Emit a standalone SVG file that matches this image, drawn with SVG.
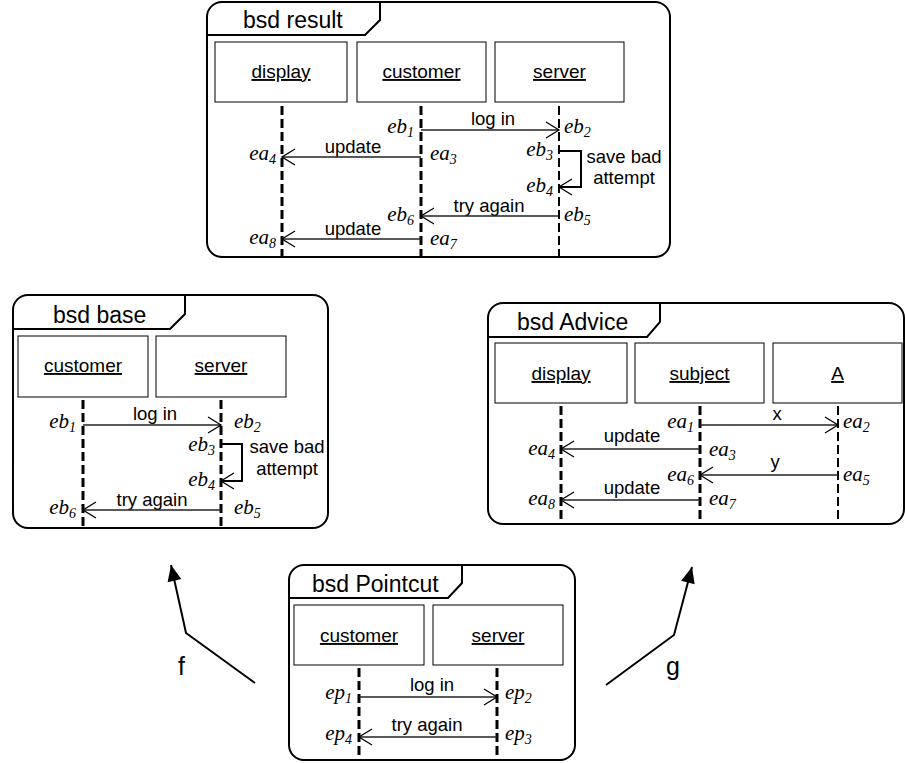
<svg xmlns="http://www.w3.org/2000/svg" width="905" height="763" viewBox="0 0 905 763">
<style>
.frame{fill:#fff;stroke:#000;stroke-width:2}
.tab{fill:none;stroke:#000;stroke-width:2}
.box{fill:#fff;stroke:#000;stroke-width:1}
.title{font-family:"Liberation Sans",Arial,sans-serif;font-size:23px;fill:#000}
.lbl{font-family:"Liberation Sans",Arial,sans-serif;font-size:19px;fill:#000;text-anchor:middle;text-decoration:underline}
.msgl{font-family:"Liberation Sans",Arial,sans-serif;font-size:18.5px;fill:#000;text-anchor:middle}
.ev{font-family:"Liberation Serif","Times New Roman",serif;font-style:italic;font-size:21px;fill:#000}
.sub{font-size:14px}
.end{text-anchor:end}
.life{stroke:#000;stroke-width:3;stroke-dasharray:9,4;fill:none}
.life2{stroke:#000;stroke-width:2;stroke-dasharray:9,4;fill:none}
.msg{stroke:#222;stroke-width:1.3;fill:none;marker-end:url(#open)}
.self{stroke:#000;stroke-width:2;fill:none;marker-end:url(#open)}
.map{stroke:#000;stroke-width:2;fill:none;marker-end:url(#filled)}
.big{font-family:"Liberation Sans",Arial,sans-serif;font-size:25px;fill:#000}
</style>
<defs>
<marker id="open" markerUnits="userSpaceOnUse" markerWidth="16" markerHeight="18" refX="13" refY="8" orient="auto" overflow="visible">
<path d="M0,0 L13,8 L0,16" fill="none" stroke="#000" stroke-width="1.3"/>
</marker>
<marker id="filled" markerUnits="userSpaceOnUse" markerWidth="18" markerHeight="16" refX="16" refY="7" orient="auto" overflow="visible">
<path d="M0,0 L16,7 L0,14 Z" fill="#000"/>
</marker>
</defs>

<g id="bsd-result">
<rect class="frame" x="207" y="2" width="463" height="255" rx="15"/>
<path class="tab" d="M207,35 H365 L380,20 V2"/>
<text class="title" x="243" y="28">bsd result</text>
<rect class="box" x="215" y="42" width="132" height="60"/>
<rect class="box" x="357" y="42" width="129" height="60"/>
<rect class="box" x="495" y="42" width="129" height="60"/>
<text class="lbl" x="281" y="78">display</text>
<text class="lbl" x="421.5" y="78">customer</text>
<text class="lbl" x="559.5" y="78">server</text>
<line class="life" x1="282" y1="106" x2="282" y2="256"/>
<line class="life" x1="421" y1="106" x2="421" y2="256"/>
<line class="life2" x1="559" y1="106" x2="559" y2="256"/>
<text class="msgl" x="493" y="125">log in</text>
<text class="msgl" x="353" y="153">update</text>
<text class="msgl" x="489" y="212">try again</text>
<text class="msgl" x="353" y="235">update</text>
<text class="msgl" x="624" y="163">save bad</text>
<text class="msgl" x="624" y="184">attempt</text>
<text class="ev end" x="414" y="133">eb<tspan class="sub" dy="4">1</tspan></text>
<text class="ev" x="564" y="133">eb<tspan class="sub" dy="4">2</tspan></text>
<text class="ev end" x="553" y="156">eb<tspan class="sub" dy="4">3</tspan></text>
<text class="ev end" x="553" y="192">eb<tspan class="sub" dy="4">4</tspan></text>
<text class="ev" x="564" y="221">eb<tspan class="sub" dy="4">5</tspan></text>
<text class="ev end" x="414" y="221">eb<tspan class="sub" dy="4">6</tspan></text>
<text class="ev" x="430" y="160">ea<tspan class="sub" dy="4">3</tspan></text>
<text class="ev end" x="276" y="160">ea<tspan class="sub" dy="4">4</tspan></text>
<text class="ev" x="430" y="245">ea<tspan class="sub" dy="4">7</tspan></text>
<text class="ev end" x="276" y="244">ea<tspan class="sub" dy="4">8</tspan></text>
</g>

<g id="bsd-base">
<rect class="frame" x="13" y="295" width="315" height="233" rx="15"/>
<path class="tab" d="M13,329 H170 L185,314 V295"/>
<text class="title" x="53" y="323">bsd base</text>
<rect class="box" x="18" y="336" width="130" height="61"/>
<rect class="box" x="156" y="336" width="130" height="61"/>
<text class="lbl" x="83" y="372">customer</text>
<text class="lbl" x="221" y="372">server</text>
<line class="life" x1="83" y1="400" x2="83" y2="527"/>
<line class="life" x1="221" y1="400" x2="221" y2="527"/>
<text class="msgl" x="155" y="420">log in</text>
<text class="msgl" x="152" y="506">try again</text>
<text class="msgl" x="287" y="453">save bad</text>
<text class="msgl" x="287" y="475">attempt</text>
<text class="ev end" x="76" y="428">eb<tspan class="sub" dy="4">1</tspan></text>
<text class="ev" x="234" y="428">eb<tspan class="sub" dy="4">2</tspan></text>
<text class="ev end" x="215" y="451">eb<tspan class="sub" dy="4">3</tspan></text>
<text class="ev end" x="215" y="486">eb<tspan class="sub" dy="4">4</tspan></text>
<text class="ev" x="234" y="514">eb<tspan class="sub" dy="4">5</tspan></text>
<text class="ev end" x="76" y="514">eb<tspan class="sub" dy="4">6</tspan></text>
</g>

<g id="bsd-advice">
<rect class="frame" x="488" y="303" width="416" height="221" rx="15"/>
<path class="tab" d="M488,337 H647 L660,322 V303"/>
<text class="title" x="517" y="330">bsd Advice</text>
<rect class="box" x="495" y="343" width="132" height="60"/>
<rect class="box" x="635" y="343" width="129" height="60"/>
<rect class="box" x="773" y="343" width="129" height="60"/>
<text class="lbl" x="561" y="380">display</text>
<text class="lbl" x="699.5" y="380">subject</text>
<text class="lbl" x="837.5" y="380">A</text>
<line class="life" x1="561" y1="406" x2="561" y2="523"/>
<line class="life" x1="700" y1="406" x2="700" y2="523"/>
<line class="life2" x1="838" y1="406" x2="838" y2="523"/>
<text class="msgl" x="777" y="420">x</text>
<text class="msgl" x="632" y="442">update</text>
<text class="msgl" x="775" y="468">y</text>
<text class="msgl" x="632" y="494">update</text>
<text class="ev end" x="694" y="428">ea<tspan class="sub" dy="4">1</tspan></text>
<text class="ev" x="843" y="428">ea<tspan class="sub" dy="4">2</tspan></text>
<text class="ev" x="709" y="456">ea<tspan class="sub" dy="4">3</tspan></text>
<text class="ev end" x="555" y="455">ea<tspan class="sub" dy="4">4</tspan></text>
<text class="ev" x="843" y="481">ea<tspan class="sub" dy="4">5</tspan></text>
<text class="ev end" x="694" y="481">ea<tspan class="sub" dy="4">6</tspan></text>
<text class="ev" x="709" y="505">ea<tspan class="sub" dy="4">7</tspan></text>
<text class="ev end" x="555" y="505">ea<tspan class="sub" dy="4">8</tspan></text>
</g>

<g id="bsd-pointcut">
<rect class="frame" x="289" y="565" width="286" height="195" rx="15"/>
<path class="tab" d="M289,598 H448 L462,583 V565"/>
<text class="title" x="312" y="592">bsd Pointcut</text>
<rect class="box" x="294" y="605" width="130" height="60"/>
<rect class="box" x="433" y="605" width="130" height="60"/>
<text class="lbl" x="359" y="642">customer</text>
<text class="lbl" x="498" y="642">server</text>
<line class="life" x1="359" y1="668" x2="359" y2="759"/>
<line class="life" x1="497" y1="668" x2="497" y2="759"/>
<text class="msgl" x="432" y="691">log in</text>
<text class="msgl" x="427" y="731">try again</text>
<text class="ev end" x="352" y="699">ep<tspan class="sub" dy="4">1</tspan></text>
<text class="ev" x="505" y="699">ep<tspan class="sub" dy="4">2</tspan></text>
<text class="ev" x="505" y="740">ep<tspan class="sub" dy="4">3</tspan></text>
<text class="ev end" x="352" y="740">ep<tspan class="sub" dy="4">4</tspan></text>
</g>

<g id="connectors">
<line class="msg" x1="421" y1="130" x2="559" y2="130"/>
<line class="msg" x1="421" y1="157" x2="282" y2="157"/>
<path class="self" d="M559,151 H581 V187 H559"/>
<line class="msg" x1="559" y1="216" x2="421" y2="216"/>
<line class="msg" x1="421" y1="239" x2="282" y2="239"/>

<line class="msg" x1="83" y1="425" x2="221" y2="425"/>
<path class="self" d="M221,444 H242 V481 H221"/>
<line class="msg" x1="221" y1="510" x2="83" y2="510"/>

<line class="msg" x1="700" y1="425" x2="838" y2="425"/>
<line class="msg" x1="700" y1="449" x2="561" y2="449"/>
<line class="msg" x1="838" y1="475" x2="700" y2="475"/>
<line class="msg" x1="700" y1="500" x2="561" y2="500"/>

<line class="msg" x1="359" y1="697" x2="497" y2="697"/>
<line class="msg" x1="497" y1="737" x2="359" y2="737"/>

<polyline class="map" points="255,683 186,633 171,565"/>
<polyline class="map" points="606,685 674,635 692,567"/>
<text class="big" x="178" y="675">f</text>
<text class="big" x="666" y="675">g</text>
</g>
</svg>
